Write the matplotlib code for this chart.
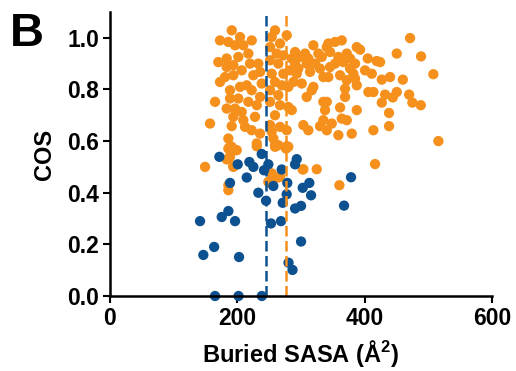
import matplotlib
matplotlib.use("Agg")
import matplotlib.pyplot as plt

plt.rcParams['font.family'] = ['Liberation Sans', 'DejaVu Sans']
plt.rcParams['font.weight'] = 'bold'
plt.rcParams['mathtext.fontset'] = 'custom'
plt.rcParams['mathtext.rm'] = 'Liberation Sans:bold'
plt.rcParams['mathtext.bf'] = 'Liberation Sans:bold'
plt.rcParams['mathtext.default'] = 'bf'

# ---- data ----
blue_x = [141.4, 146.6, 163.6, 171.8, 175.5, 185.9, 188.5, 196.4, 200.6, 202.7,
          214.8, 218.9, 225.2, 233.0, 238.3, 241.9, 245.1, 248.7, 252.9, 256.6,
          268.6, 269.7, 271.3, 277.5, 278.5, 280.4, 286.7, 290.7, 293.3, 290.7,
          300.1, 300.1, 302.7, 313.1, 315.8, 367.6, 378.6, 165.0, 201.9, 238.5]
blue_y = [0.290, 0.159, 0.190, 0.539, 0.306, 0.329, 0.438, 0.290, 0.510, 0.151,
          0.459, 0.519, 0.500, 0.400, 0.550, 0.487, 0.369, 0.510, 0.281, 0.426,
          0.290, 0.490, 0.361, 0.394, 0.438, 0.129, 0.101, 0.510, 0.530, 0.339,
          0.349, 0.211, 0.419, 0.438, 0.390, 0.350, 0.460, 0.0, 0.0, 0.0]

orange_x = [471.3, 450.4, 488.6, 507.9, 424.2, 426.9, 439.9, 459.9, 432.1, 450.4,
            444.2, 426.9, 469.8, 474.9, 488.1, 438.3, 438.3, 515.8,
            277.6, 319.4, 343.0, 353.5, 364.0, 340.5, 387.6, 392.8, 290.7, 306.4,
            327.3, 345.6, 371.9, 285.5, 298.5, 311.5, 332.6, 358.7, 377.1, 404.9,
            419.0, 290.7, 309.0, 322.1, 353.5, 366.5, 384.9, 282.8, 295.8, 329.9,
            345.6, 377.1, 400.6, 411.2, 293.3, 314.2, 335.1, 343.0, 361.4, 382.2,
            384.9, 371.9, 288.0, 301.2, 319.4, 316.9, 280.1, 369.2, 387.6, 405.8,
            413.7, 369.2, 309.0, 335.1, 340.5, 337.8, 361.4, 387.6, 280.1, 285.5,
            335.1, 364.0, 371.9, 303.7, 311.5, 329.9, 340.5, 348.3, 358.7, 379.7,
            413.7, 277.6, 280.1, 303.7, 324.7, 416.3, 360.3,
            191.2, 172.8, 185.9, 204.2, 222.6, 196.4, 209.4, 170.1, 183.3, 201.6,
            217.3, 259.2, 254.0, 267.1, 251.4, 261.9, 272.3, 251.4, 264.4, 183.3,
            193.7, 206.9, 219.9, 233.0, 172.8, 180.7, 193.7, 225.1, 235.7, 254.0,
            272.3, 188.5, 204.2, 214.8, 222.6, 238.3, 259.2, 269.8, 251.4, 264.4,
            235.7, 165.0, 188.5, 201.6, 217.3, 183.3, 196.4, 206.9, 230.5, 251.4,
            267.1, 193.7, 209.4, 227.8, 259.2, 157.1, 191.2, 212.1, 251.4, 267.1,
            254.0, 235.7, 222.6, 185.9, 191.2, 199.1, 230.5, 256.6, 264.4, 259.2,
            188.5, 183.3, 149.3, 193.7, 267.1, 254.0, 185.9, 185.9, 248.7,
            185.9, 196.4, 185.9, 193.7, 230.5, 259.2, 277.6, 276.5, 302.7, 254.0,
            250.3, 264.4, 188.5, 261.9]
orange_y = [0.999, 0.939, 0.928, 0.859, 0.906, 0.838, 0.848, 0.838, 0.780, 0.790,
            0.769, 0.749, 0.780, 0.749, 0.739, 0.709, 0.658, 0.600,
            1.010, 0.971, 0.978, 0.984, 0.990, 0.964, 0.964, 0.954, 0.945, 0.939,
            0.939, 0.945, 0.939, 0.920, 0.926, 0.920, 0.926, 0.926, 0.920, 0.920,
            0.910, 0.900, 0.900, 0.900, 0.900, 0.906, 0.900, 0.874, 0.881, 0.881,
            0.887, 0.881, 0.874, 0.861, 0.861, 0.868, 0.848, 0.848, 0.855, 0.861,
            0.842, 0.836, 0.829, 0.823, 0.810, 0.797, 0.810, 0.803, 0.816, 0.790,
            0.790, 0.771, 0.771, 0.752, 0.752, 0.720, 0.730, 0.720, 0.732, 0.720,
            0.681, 0.687, 0.681, 0.662, 0.642, 0.658, 0.642, 0.668, 0.623, 0.629,
            0.642, 0.642, 0.578, 0.491, 0.491, 0.511, 0.429,
            1.029, 0.990, 0.984, 1.003, 0.990, 0.971, 0.971, 0.906, 0.920, 0.926,
            0.939, 1.029, 1.003, 0.978, 0.964, 0.939, 0.932, 0.913, 0.900, 0.887,
            0.894, 0.874, 0.900, 0.900, 0.829, 0.848, 0.855, 0.855, 0.868, 0.861,
            0.861, 0.797, 0.810, 0.816, 0.797, 0.823, 0.829, 0.816, 0.797, 0.778,
            0.771, 0.752, 0.765, 0.765, 0.752, 0.726, 0.726, 0.713, 0.739, 0.752,
            0.739, 0.694, 0.681, 0.694, 0.700, 0.668, 0.658, 0.655, 0.662, 0.655,
            0.636, 0.629, 0.642, 0.610, 0.578, 0.565, 0.591, 0.610, 0.584, 0.578,
            0.539, 0.529, 0.500, 0.500, 0.462, 0.475, 0.429, 0.410, 0.442,
            0.571, 0.565, 0.533, 0.503, 0.580, 0.584, 0.580, 0.571, 0.490, 0.442,
            0.438, 0.459, 0.578, 0.584]

blue_mean = 245.0
orange_mean = 276.0

x_ticks = [0, 200, 400, 600]
y_ticks = [0.0, 0.2, 0.4, 0.6, 0.8, 1.0]

BLUE = '#0D5190'
ORANGE = '#F5901C'

fig = plt.figure(figsize=(5.16, 3.71), dpi=100)
ax = fig.add_axes([110/516, 1 - 296/371, (492 - 110)/516, (296 - 12)/371])

ax.scatter(orange_x, orange_y, s=55, color=ORANGE, edgecolors='none', zorder=2, clip_on=False)
ax.scatter(blue_x, blue_y, s=55, color=BLUE, edgecolors='none', zorder=3, clip_on=False)

ax.axvline(blue_mean, color=BLUE, lw=1.8, ls=(0, (4.2, 1.8)), zorder=4)
ax.axvline(orange_mean, color=ORANGE, lw=1.8, ls=(0, (4.2, 1.8)), zorder=4)

ax.set_xlim(0, 600)
ax.set_ylim(0, 1.1)
ax.set_xticks(x_ticks)
ax.set_yticks(y_ticks)
ax.set_yticklabels([f"{v:.1f}" for v in y_ticks])

for s in ['top', 'right']:
    ax.spines[s].set_visible(False)
for s in ['left', 'bottom']:
    ax.spines[s].set_linewidth(1.8)
    ax.spines[s].set_zorder(5)

ax.tick_params(axis='both', which='major', length=5, width=1.5, labelsize=16.5, pad=3)
for lab in ax.get_xticklabels() + ax.get_yticklabels():
    lab.set_fontweight('bold')

ax.set_xlabel('Buried SASA (Å$^2$)', fontsize=17, fontweight='bold', labelpad=6)
ax.set_ylabel('COS', fontsize=17, fontweight='bold', labelpad=8)

fig.text(10/516, 1 - 12/371, 'B', fontsize=34, fontweight='bold', va='top', ha='left')

fig.savefig('out.png', dpi=100)
